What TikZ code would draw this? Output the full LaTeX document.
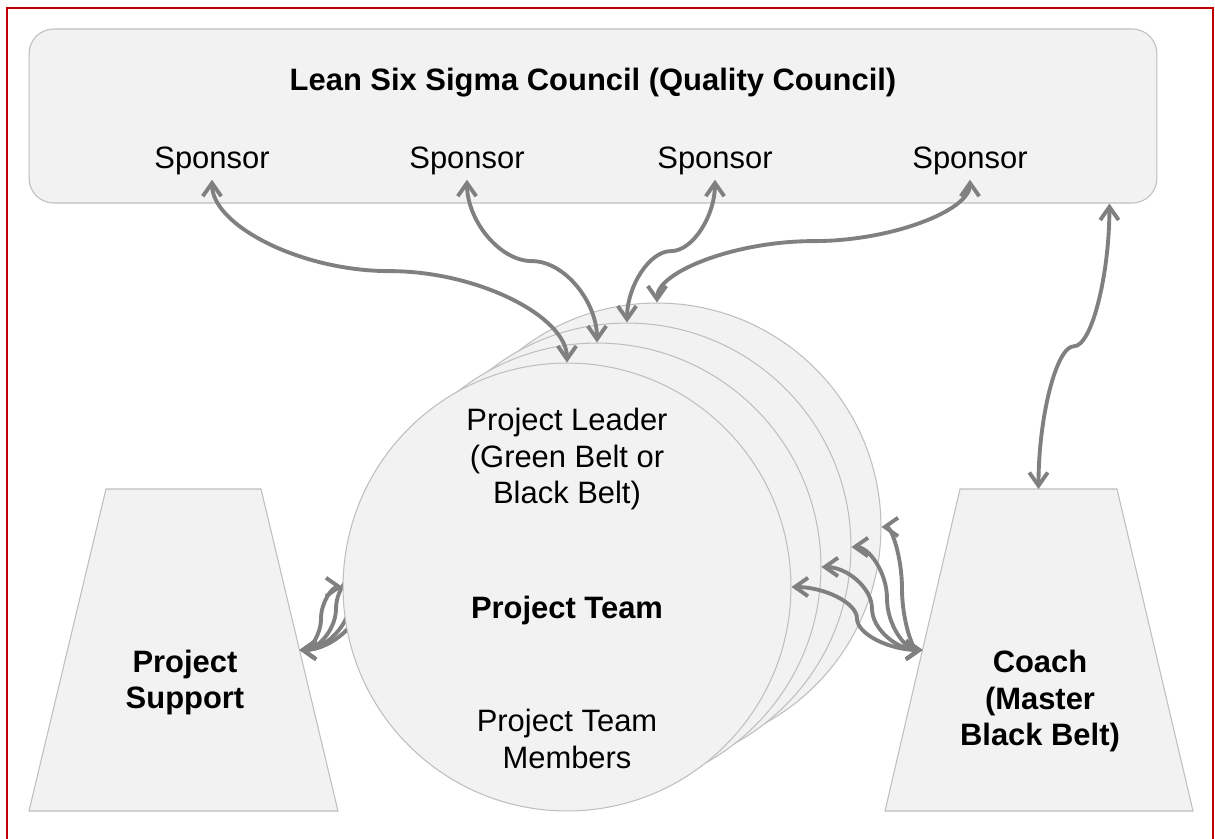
\documentclass[tikz,border=0pt]{standalone}
\usepackage{fontspec}
\setmainfont{Liberation Sans}
\usetikzlibrary{arrows.meta,calc}
\definecolor{shapefill}{HTML}{F2F2F2}
\definecolor{shapeline}{HTML}{BFBFBF}
\definecolor{linkgray}{HTML}{808080}
\definecolor{framered}{HTML}{C00000}

% curved connector leaving and entering horizontally
\newcommand\hlink[2]{%
  \coordinate (lm) at ($(#1)!0.5!(#2)$);
  \coordinate (la) at ($(#1)!0.25!(#2)$);
  \coordinate (lb) at ($(#1)!0.75!(#2)$);
  \draw[link] (#1) .. controls (la |- #1) and (lm |- la) .. (lm)
                   .. controls (lm |- lb) and (lb |- #2) .. (#2);}
% curved connector leaving and entering vertically
\newcommand\vlink[2]{%
  \coordinate (lm) at ($(#1)!0.5!(#2)$);
  \coordinate (la) at ($(#1)!0.25!(#2)$);
  \coordinate (lb) at ($(#1)!0.75!(#2)$);
  \draw[link] (#1) .. controls (#1 |- la) and (la |- lm) .. (lm)
                   .. controls (lb |- lm) and (#2 |- lb) .. (#2);}

\begin{document}
\begin{tikzpicture}[x=0.02cm,y=-0.02cm,
  txt/.style={font=\fontsize{17.6}{20.8}\selectfont, inner sep=0pt, align=center},
  boldtxt/.style={txt, font=\fontsize{17.6}{20.8}\selectfont\bfseries},
  sponsor/.style={txt, anchor=base, outer sep=3pt},
  panel/.style={draw=shapeline, fill=shapefill, line width=0.6pt},
  disc/.style={panel, circle, minimum size=8.96cm, inner sep=0pt},
  link/.style={draw=linkgray, line width=2.2pt,
    arrows={Straight Barb[length=7.5pt,width=10.5pt]-Straight Barb[length=7.5pt,width=10.5pt]}}]

\clip (0,0) rectangle (1215,839);
\fill[white] (0,0) rectangle (1215,839);
\draw[framered, line width=1.2pt] (7,8) rectangle (1213,870);

% council box with its sponsors
\node[panel, rounded corners=14pt, minimum width=22.56cm, minimum height=3.48cm,
      inner sep=0pt] (council) at (593,116) {};
\node[boldtxt, anchor=base] (title) at (593,90) {Lean Six Sigma Council (Quality Council)};
\node[sponsor] (s1) at (212,168) {Sponsor};
\node[sponsor] (s2) at (467,168) {Sponsor};
\node[sponsor] (s3) at (715,168) {Sponsor};
\node[sponsor] (s4) at (970,168) {Sponsor};
\coordinate (cq) at ($(council.south east)+(-48,0)$);

% side panels
\path[panel] (106,489) coordinate (sup-tl) -- (261,489) coordinate (sup-tr)
  -- (338,811) coordinate (sup-br) -- (29,811) coordinate (sup-bl) -- cycle;
\coordinate (supE) at ($(sup-tr)!0.5!(sup-br)$);
\node[boldtxt] (support) at (185,682.5) {Project\\Support};

\path[panel] (960,489) coordinate (coach-tl) -- (1117,489) coordinate (coach-tr)
  -- (1193,811) coordinate (coach-br) -- (885,811) coordinate (coach-bl) -- cycle;
\coordinate (coachW) at ($(coach-tl)!0.5!(coach-bl)$);
\coordinate (coachN) at ($(coach-tl)!0.5!(coach-tr)$);
\node[boldtxt] (coach) at (1040,701) {Coach\\(Master\\Black Belt)};

% stacked project teams, back to front
\node[disc] (p4) at (657,527) {};
\vlink{s4.south}{p4.north}
\hlink{p4.west}{supE}
\hlink{p4.east}{coachW}

\node[disc] (p3) at (627,547) {};
\vlink{s3.south}{p3.north}
\hlink{p3.west}{supE}
\hlink{p3.east}{coachW}

\node[disc] (p2) at (597,567) {};
\vlink{s2.south}{p2.north}
\hlink{p2.west}{supE}
\hlink{p2.east}{coachW}

\node[disc] (p1) at (567,587) {};
\vlink{s1.south}{p1.north}
\hlink{p1.west}{supE}
\hlink{p1.east}{coachW}

\node[txt] (leader) at (567,459) {Project Leader\\(Green Belt or\\Black Belt)};
\node[boldtxt, anchor=base] (team) at (567,618) {Project Team};
\node[txt] (members) at (567,739) {Project Team\\Members};

% coach to council
\vlink{cq}{coachN}

\end{tikzpicture}
\end{document}
